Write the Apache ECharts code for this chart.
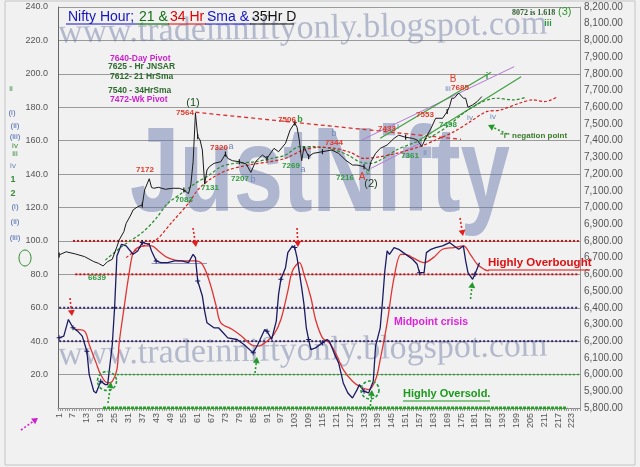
<!DOCTYPE html>
<html><head><meta charset="utf-8">
<script src="https://cdn.jsdelivr.net/npm/echarts@6/dist/echarts.min.js"></script>
<style>html,body{margin:0;padding:0;background:#f1f1f1}#c{width:640px;height:467px}</style>
</head><body><div id="c"></div>
<script>
// ---------- DATA ----------
const categories = Array.from({length: 226}, (_, i) => String(i + 1));

// Oscillator (left axis) : [hour index, value]
const oscBlue = [[1,42],[3,43],[5,53],[7,48],[9,46],[11,43],[13,34],[14,20],[16,10],[17,9],[19,16],[21,14],[22,14],[24,38],[25,60],[26,91],[28,98],[30,97],[33,92],[35,94],[37,99],[40,98],[41,94],[43,88],[45,87],[48,87],[51,88],[54,88],[57,87],[59,92],[60,90],[61,76],[63,67],[64,58],[65,51],[68,48],[70,48],[72,45],[74,42],[78,41],[81,38],[85,33],[87,38],[90,47],[91,46],[93,41],[95,52],[96,68],[97,77],[99,84],[100,93],[102,97],[103,96],[104,90],[106,72],[107,62],[108,48],[109,41],[110,35],[112,36],[115,39],[117,41],[118,40],[120,33],[122,27],[124,15],[126,9],[128,6],[130,11],[131,14],[133,10],[135,9],[137,16],[138,37],[140,48],[141,64],[142,82],[143,94],[144,92],[146,96],[148,95],[150,93],[152,91],[154,89],[156,86],[157,81],[159,81],[160,93],[162,95],[164,96],[167,97],[170,99],[172,97],[174,95],[176,97],[177,88],[178,81],[180,77],[181,80],[183,87]];
const oscSignal = [[8,47],[12,46],[14,38],[17,27],[19,20],[22,15],[24,16],[26,23],[27,39],[29,59],[31,78],[33,93],[35,96],[38,97],[41,97],[44,94],[48,90],[54,88],[60,88],[63,86],[66,76],[69,61],[71,51],[76,47],[80,43],[84,38],[87,37],[91,40],[94,44],[97,53],[100,70],[102,82],[105,87],[107,80],[110,66],[112,53],[115,42],[118,39],[121,32],[124,23],[128,16],[131,13],[135,11],[138,17],[140,29],[143,51],[146,78],[149,92],[151,92],[154,90],[159,87],[163,90],[167,95],[172,96],[176,97],[179,92],[182,86],[185,83],[187,82]];
const oscFlat = [[41,86.5],[65,86.5]];

// Price (right axis)
const price = [[1,6716],[4,6735],[8,6722],[12,6706],[16,6676],[18,6666],[20,6650],[22,6676],[24,6690],[26,6765],[27,6806],[29,6855],[30,6905],[32,6955],[33,6985],[35,7005],[37,7015],[38,7105],[40,7172],[41,7120],[42,7115],[44,7121],[47,7109],[50,7115],[53,7115],[55,7105],[57,7083],[58,7135],[59,7274],[60,7564],[61,7424],[62,7404],[63,7344],[64,7140],[65,7224],[66,7244],[68,7264],[71,7274],[73,7320],[74,7294],[76,7280],[79,7274],[82,7260],[84,7210],[86,7274],[89,7314],[91,7294],[94,7354],[96,7334],[99,7384],[101,7464],[103,7506],[104,7480],[105,7400],[106,7280],[107,7364],[109,7304],[111,7324],[115,7334],[119,7344],[122,7324],[125,7284],[128,7254],[130,7254],[133,7244],[135,7218],[136,7274],[138,7324],[140,7354],[143,7374],[146,7414],[148,7433],[151,7420],[154,7414],[156,7404],[158,7365],[160,7424],[162,7474],[164,7534],[167,7534],[169,7574],[170,7604],[171,7654],[172,7654],[174,7685],[176,7654],[177,7654],[178,7600],[180,7614],[182,7634],[184,7664]];
const sma21 = [[21,6685],[28,6765],[37,6850],[43,6935],[48,7025],[54,7085],[60,7145],[66,7194],[71,7244],[77,7264],[86,7274],[93,7294],[99,7314],[105,7364],[111,7364],[118,7354],[126,7314],[131,7274],[136,7264],[140,7284],[147,7344],[154,7384],[162,7424],[169,7484],[176,7564],[183,7624],[190,7654],[198,7644],[203,7660]];
const sma34 = [[30,6700],[36,6760],[43,6806],[50,6915],[57,7025],[61,7105],[67,7175],[74,7224],[83,7254],[92,7274],[99,7294],[106,7340],[113,7360],[120,7355],[127,7330],[133,7294],[140,7304],[147,7324],[157,7364],[164,7404],[172,7454],[179,7514],[186,7574],[192,7583],[200,7623],[206,7644],[211,7634],[214,7644],[217,7664]];
const trendRed = [[60,7570],[175,7408]];
const trendPurple = [[132,7404],[198,7843]];
const trendPurple2 = [[136,7234],[158,7390]];
const trendGreenUp = [[140,7414],[188,7810]];
const trendGreenLow = [[157,7404],[201,7783]];

// Oscillator reference levels
const levelValues = [100, 80, 60, 40, 20, 0];
const levelSpans = [[7,226],[8,226],[1,226],[1,226],[26,226],[20,221]];

// ---------- CHART ----------
const pts = a => a.map(p => [p[0] - 1, p[1]]);
const FONT = '"Liberation Sans", Arial, sans-serif';
const levelStyles = [
  {color:'#cc1111', width:2, type:[2,2]},
  {color:'#cc1111', width:2, type:[2,2]},
  {color:'#3a2a70', width:2, type:[2,2]},
  {color:'#3a2a70', width:2, type:[2,2]},
  {color:'#22a022', width:1.5, type:[2,2]},
  {color:'#22a022', width:3, type:[3,1]}
];
const series = [];
levelValues.forEach((v, i) => {
  series.push({type:'line', yAxisIndex:0, silent:true, symbol:'none', z:1,
    data:[[levelSpans[i][0]-1, v],[levelSpans[i][1]-1, v]], lineStyle:levelStyles[i]});
});
function trend(d, color, w, type) {
  return {type:'line', yAxisIndex:1, silent:true, symbol:'none', z:3, data:pts(d),
    lineStyle:{color, width:w, type:type||'solid'}};
}
series.push(trend(trendRed, '#d83030', 1.3, [4,3]));
series.push(trend(trendPurple, '#b57ad6', 1));
series.push(trend(trendPurple2, '#b57ad6', 1));
series.push(trend(trendGreenUp, '#3fa03f', 1.2));
series.push(trend(trendGreenLow, '#3fa03f', 1.2));
series.push({type:'line', yAxisIndex:1, symbol:'none', z:4, data:pts(sma21), smooth:0.3,
  lineStyle:{color:'#2d8a2d', width:1.2, type:[3,2]}});
series.push({type:'line', yAxisIndex:1, symbol:'none', z:4, data:pts(sma34), smooth:0.3,
  lineStyle:{color:'#d82020', width:1.2, type:[3,2]}});
series.push({type:'line', yAxisIndex:1, z:5, data:pts(price), symbol:'rect', symbolSize:[1.2,5],
  itemStyle:{color:'#1a1a1a'}, lineStyle:{color:'#1a1a1a', width:1}});
series.push({type:'line', yAxisIndex:0, z:4, data:pts(oscFlat), symbol:'none',
  lineStyle:{color:'#9090c0', width:1}});
series.push({type:'line', yAxisIndex:0, z:5, data:pts(oscSignal), symbol:'none', smooth:0.35,
  lineStyle:{color:'#e03535', width:1.3}});
series.push({type:'line', yAxisIndex:0, z:6, data:pts(oscBlue),
  symbol:'path://M2,0h1v2h2v1h-2v2h-1v-2h-2v-1h2z', symbolSize:5,
  itemStyle:{color:'#1b1b62'}, lineStyle:{color:'#1b1b62', width:1.3}});

// ---------- GRAPHICS ----------
const G = [];
function txt(text, x, y, fill, font, align, extra) {
  G.push(Object.assign({type:'text', x, y, z:50, silent:true,
    style:{text, fill, font, align:align||'left', textAlign:align||'left',
      verticalAlign:'middle', textVerticalAlign:'middle'}}, extra||{}));
}
function line(x1,y1,x2,y2,color,w,dash){
  G.push({type:'line', z:50, silent:true, shape:{x1,y1,x2,y2}, style:{stroke:color, lineWidth:w||1, lineDash:dash||null}});
}
function arrow(x1,y1,x2,y2,color){
  const a = Math.atan2(y2-y1, x2-x1), L = 6, W = 3.5;
  const bx = x2 - L*Math.cos(a), by = y2 - L*Math.sin(a);
  const px = -Math.sin(a)*W, py = Math.cos(a)*W;
  G.push({type:'polyline', z:50, silent:true, shape:{points:[[x1,y1],[bx,by]]}, style:{stroke:color, lineWidth:1.6, lineDash:[2,2], fill:null}});
  G.push({type:'polygon', z:50, silent:true, shape:{points:[[x2,y2],[bx+px,by+py],[bx-px,by-py]]}, style:{fill:color}});
}
// border
G.push({type:'rect', z:0, silent:true, shape:{x:5,y:1,width:630,height:464}, style:{fill:null, stroke:'#c4c4c4', lineWidth:1}});
// watermarks
G.push({type:'text', x:130, y:178, z:1, silent:true, scaleX:0.74,
  style:{text:'JustNifty', fill:'rgba(100,120,170,0.48)', font:'bold 120px ' + FONT,
    align:'left', textAlign:'left', verticalAlign:'middle', textVerticalAlign:'middle'}});
['top','bottom'].forEach((k, i) => {
  G.push({type:'text', x:58, y: i ? 355.5 : 33.5, rotation: 0.018, z:1, silent:true,
    style:{text:'www.tradeinniftyonly.blogspot.com', fill:'rgba(105,118,160,0.45)',
      font:'34px "Liberation Serif", "Times New Roman", serif',
      align:'left', textAlign:'left', verticalAlign:'middle', textVerticalAlign:'middle'}});
});
// title
const titleSegs = [['Nifty Hour;',68,136,'#1414c0'],['21 &',139,168,'#137013'],['34 Hr',170,205,'#e00000'],['Sma &',207,250,'#1414c0'],['35Hr D',252,293,'#111111']];
titleSegs.forEach(s => { txt(s[0], s[1], 17, s[3], '14px ' + FONT); line(s[1]-2, 24, s[2]+1, 24, s[3], 1.2); });
// pivot notes
const pg = '#2e6b2e', mg = '#cc22cc';
txt('7640-Day Pivot', 110, 59, mg, 'bold 8.5px ' + FONT);
txt('7625 - Hr JNSAR', 108, 67, pg, 'bold 8.5px ' + FONT);
txt('7612- 21 HrSma', 110, 77, pg, 'bold 8.5px ' + FONT);
txt('7540 - 34HrSma', 108, 91, pg, 'bold 8.5px ' + FONT);
txt('7472-Wk Pivot', 110, 100, mg, 'bold 8.5px ' + FONT);
// price annotations
const rd = '#e03a2a', gn = '#2f9a3f', gb = '#7088b8';
const f8 = 'bold 8px ' + FONT;
txt('(1)', 193, 103, '#1e4e1e', '11px ' + FONT, 'center');
txt('7564', 185, 113, rd, f8, 'center');
txt('7506', 287, 120, rd, f8, 'center'); txt('b', 300, 120, gn, 'bold 9px ' + FONT, 'center');
txt('7320', 219, 148, rd, f8, 'center'); txt('a', 231, 147, gb, '9px ' + FONT, 'center');
txt('7172', 145, 170, rd, f8, 'center');
txt('7083', 184, 200, gn, f8, 'center');
txt('7131', 210, 188, gn, f8, 'center');
txt('7207', 240, 179, gn, f8, 'center'); txt('b', 253, 180, gb, '9px ' + FONT, 'center');
txt('7269', 291, 166, gn, f8, 'center'); txt('a', 303, 170, gb, '9px ' + FONT, 'center');
txt('b', 334, 134, gb, '9px ' + FONT, 'center');
txt('7344', 334, 143, rd, f8, 'center');
txt('7433', 387, 129, rd, f8, 'center');
txt('i', 398, 127, gb, '9px ' + FONT, 'center');
txt('7216', 345, 178, gn, f8, 'center');
txt('A', 362, 177, rd, '10px ' + FONT, 'center'); txt('c', 368, 172, gn, '8px ' + FONT, 'center');
txt('(2)', 371, 184, '#1a3a1a', '11px ' + FONT, 'center');
txt('7361', 410, 156, gn, f8, 'center'); txt('ii', 425, 153, gb, '8px ' + FONT, 'center');
txt('7553', 425, 115, rd, f8, 'center');
txt('7498', 448, 125, gn, f8, 'center');
txt('iv', 470, 118, gb, '8px ' + FONT, 'center'); txt('iv', 493, 117, gb, '8px ' + FONT, 'center');
txt('B', 453, 79, rd, '10px ' + FONT, 'center');
txt('iii', 448, 89, gb, '8px ' + FONT, 'center'); txt('7685', 460, 88, rd, f8, 'center');
txt('i', 487, 77, gn, 'bold 9px ' + FONT, 'center');
txt('8072 is 1.618', 512, 13, '#2a5a2a', 'bold 8px "Liberation Serif", serif');
txt('(3)', 558, 12, '#2a9a2a', '11px ' + FONT);
txt('iii', 548, 24, gn, 'bold 9px ' + FONT, 'center');
txt('"i" negation point', 500, 136, '#3a7a2a', f8);
txt('6639', 97, 278, gn, f8, 'center');
// oscillator notes
txt('Highly Overbought', 488, 263, '#e01010', 'bold 11.5px ' + FONT); line(488, 270, 590, 270, '#e01010', 1.2);
txt('Midpoint crisis', 394, 322, '#dd22dd', 'bold 10.5px ' + FONT);
txt('Highly Oversold.', 403, 394, '#1a9a1a', 'bold 11px ' + FONT); line(403, 401, 490, 401, '#1a9a1a', 1.2);
// left column labels
const lb = '#4a68b0', lg = '#3a8a3a';
[['ii',11,89,lg],['(i)',12,113,lb],['(ii)',15,126,lb],['(iii)',15,137,lb],['iv',15,146,lg],['iii',15,154,lg],['iv',13,166,gb],
 ['1',13,180,lg],['2',13,194,lg],['(i)',15,207,lb],['(ii)',15,222,lb],['(iii)',15,238,lb]].forEach(l => {
  txt(l[0], l[1], l[2], l[3], ((l[0]==='1'||l[0]==='2') ? 'bold 9px ' : '8px ') + FONT, 'center');
});
G.push({type:'ellipse', z:50, silent:true, shape:{cx:25, cy:258, rx:6, ry:8}, style:{fill:null, stroke:'#2a8a2a', lineWidth:1}});
// circles
G.push({type:'circle', z:50, silent:true, shape:{cx:107, cy:381, r:9.5}, style:{fill:null, stroke:'#1f9a3a', lineWidth:1.6, lineDash:[3,2]}});
G.push({type:'circle', z:50, silent:true, shape:{cx:370, cy:390, r:9}, style:{fill:null, stroke:'#1f9a3a', lineWidth:1.6, lineDash:[3,2]}});
// arrows
[[70,298,72,316],[193,228,196,247],[297,228,298,247],[460,218,463,236]].forEach(a => arrow(a[0],a[1],a[2],a[3],'#e02020'));
[[108,403,111,382],[255,373,257,357],[370,410,372,390],[470.5,299,472.5,282],[507,134,488,125]].forEach(a => arrow(a[0],a[1],a[2],a[3],'#22992a'));
arrow(21,430,38,418,'#cc22cc');

// ---------- OPTION ----------
const chart = echarts.init(document.getElementById('c'));
chart.setOption({
  animation:false,
  backgroundColor:'#f1f1f1',
  grid:{left:58, right:60, top:7, bottom:59},
  xAxis:{type:'category', data:categories, boundaryGap:true,
    axisLine:{lineStyle:{color:'#888'}},
    axisTick:{show:true, interval:0, length:3, lineStyle:{color:'#999'}},
    axisLabel:{interval:5, rotate:90, fontSize:9, color:'#555', margin:5, fontFamily:FONT},
    splitLine:{show:false}},
  yAxis:[
    {type:'value', min:0, max:240, interval:20, position:'left',
      axisLine:{show:true, lineStyle:{color:'#666'}}, axisTick:{show:false},
      axisLabel:{fontSize:9, color:'#555', margin:10, fontFamily:FONT,
        formatter: v => v === 0 ? '' : v.toFixed(1)},
      splitLine:{show:true, lineStyle:{color:'#9a9a9a', width:1}}},
    {type:'value', min:5800, max:8200, interval:100, position:'right',
      axisLine:{show:true, lineStyle:{color:'#999'}}, axisTick:{show:false},
      axisLabel:{fontSize:10, color:'#555', margin:4, fontFamily:FONT,
        formatter: v => v.toLocaleString('en-US', {minimumFractionDigits:2, maximumFractionDigits:2})},
      splitLine:{show:false}}
  ],
  series,
  graphic:{elements:G}
});
</script></body></html>
